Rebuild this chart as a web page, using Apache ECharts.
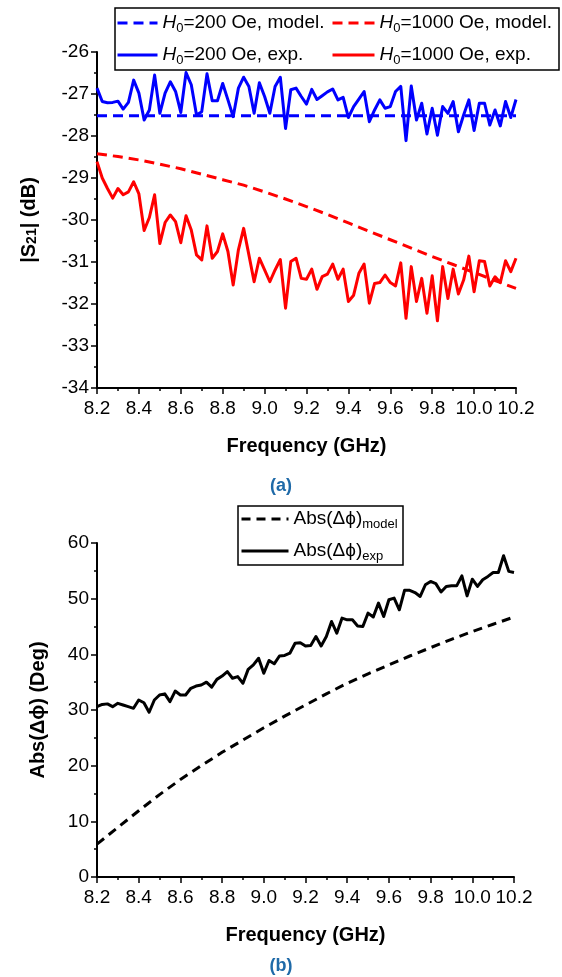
<!DOCTYPE html>
<html>
<head>
<meta charset="utf-8">
<script src="https://cdn.jsdelivr.net/npm/echarts@6/dist/echarts.min.js"></script>
<style>
  html, body { margin: 0; padding: 0; background: #fff; }
  #chart { width: 562px; height: 977px; }
</style>
</head>
<body>
<div id="chart"></div>
<script>
// Measured frequency grid (GHz)
const freq = [8.2,8.225,8.25,8.275,8.3,8.325,8.35,8.375,8.4,8.425,8.45,8.475,8.5,8.525,8.55,8.575,8.6,8.625,8.65,8.675,
  8.7,8.725,8.75,8.775,8.8,8.825,8.85,8.875,8.9,8.925,8.95,8.975,9.0,9.025,9.05,9.075,9.1,9.125,9.15,9.175,
  9.2,9.225,9.25,9.275,9.3,9.325,9.35,9.375,9.4,9.425,9.45,9.475,9.5,9.525,9.55,9.575,9.6,9.625,9.65,9.675,
  9.7,9.725,9.75,9.775,9.8,9.825,9.85,9.875,9.9,9.925,9.95,9.975,10.0,10.025,10.05,10.075,10.1,10.125,10.15,10.175,10.2];

// Model frequency grid (GHz)
const modelFreq = [8.2,8.3,8.4,8.5,8.6,8.7,8.8,8.9,9.0,9.1,9.2,9.3,9.4,9.5,9.6,9.7,9.8,9.9,10.0,10.1,10.2];

// |S21| (dB), model
const s21Model200 = [-27.52,-27.52,-27.52,-27.52,-27.52,-27.52,-27.52,-27.52,-27.52,-27.52,-27.52,
  -27.52,-27.52,-27.52,-27.52,-27.52,-27.52,-27.52,-27.52,-27.52,-27.52];
const s21Model1000 = [-28.42,-28.49,-28.57,-28.67,-28.78,-28.91,-29.04,-29.17,-29.33,-29.50,-29.68,
  -29.87,-30.07,-30.27,-30.47,-30.67,-30.87,-31.06,-31.25,-31.44,-31.63];

// |S21| (dB), measured
const s21Exp200 = [-26.86,-27.18,-27.21,-27.20,-27.17,-27.36,-27.20,-26.67,-26.98,-27.62,
  -27.38,-26.55,-27.46,-26.98,-26.71,-26.94,-27.44,-26.49,-26.78,-27.50,
  -27.42,-26.52,-27.16,-27.16,-26.75,-27.14,-27.54,-26.86,-26.60,-26.82,
  -27.46,-26.73,-27.06,-27.46,-26.82,-26.60,-27.82,-26.90,-26.86,-27.06,
  -27.24,-26.89,-27.13,-27.04,-26.95,-26.88,-27.14,-27.08,-27.56,-27.30,
  -27.12,-26.94,-27.66,-27.38,-27.14,-27.34,-27.30,-26.94,-26.82,-28.11,
  -26.81,-27.62,-27.22,-27.95,-27.34,-27.98,-27.30,-27.46,-27.18,-27.90,
  -27.50,-27.14,-27.87,-27.22,-27.22,-27.74,-27.38,-27.76,-27.18,-27.56,-27.13];
const s21Exp1000 = [-28.61,-29.00,-29.25,-29.48,-29.25,-29.40,-29.33,-29.09,-29.38,-30.25,
  -29.94,-29.40,-30.56,-30.06,-29.88,-30.04,-30.54,-29.90,-30.24,-30.83,
  -30.95,-30.14,-30.91,-30.75,-30.33,-30.75,-31.55,-30.71,-30.20,-30.83,
  -31.47,-30.91,-31.19,-31.47,-31.19,-30.94,-32.10,-30.99,-30.91,-31.39,
  -31.41,-31.17,-31.65,-31.35,-31.29,-31.05,-31.41,-31.17,-31.94,-31.79,
  -31.27,-31.05,-31.98,-31.51,-31.49,-31.31,-31.49,-31.57,-31.02,-32.34,
  -31.11,-31.94,-31.39,-32.22,-31.33,-32.40,-31.11,-31.87,-31.17,-31.76,
  -31.43,-30.86,-31.71,-30.97,-30.99,-31.57,-31.35,-31.49,-30.97,-31.23,-30.91];

// Abs(delta phi) (deg)
const phaseModel = [5.9,8.9,11.9,14.8,17.5,20.0,22.4,24.6,26.8,28.9,30.9,
  32.9,34.8,36.5,38.1,39.7,41.2,42.7,44.1,45.4,46.7];
const phaseExp = [30.6,31.0,31.1,30.6,31.2,30.9,30.6,30.3,31.8,31.3,
  29.6,31.8,32.7,32.9,31.5,33.4,32.7,32.7,33.9,34.3,
  34.5,35.0,34.1,35.5,36.1,36.9,35.7,36.0,34.8,37.3,
  38.1,39.3,36.6,38.9,38.3,39.7,39.8,40.2,42.0,42.1,
  41.5,41.6,43.2,41.5,43.2,45.9,43.8,46.5,46.2,46.2,
  45.1,45.0,47.4,46.7,49.2,46.8,49.8,50.1,48.0,51.5,
  51.5,51.1,50.4,52.5,53.1,52.7,51.2,52.2,52.3,52.3,
  54.1,50.5,53.5,52.2,53.4,54.0,54.7,54.7,57.7,54.9,54.7];

// Tick settings
const freqMin = 8.2, freqMax = 10.2, freqStep = 0.2;
const s21Min = -34, s21Max = -26, s21Step = 1;
const phaseMin = 0, phaseMax = 60, phaseStep = 10;

const pairs = (xs, ys) => xs.map((x, i) => [x, ys[i]]);

const FONT = '"Liberation Sans", Arial, sans-serif';

const legendLabels = {
  'H0=200 Oe, model.': '{i|H}{s|0}=200 Oe, model.',
  'H0=1000 Oe, model.': '{i|H}{s|0}=1000 Oe, model.',
  'H0=200 Oe, exp.': '{i|H}{s|0}=200 Oe, exp.',
  'H0=1000 Oe, exp.': '{i|H}{s|0}=1000 Oe, exp.',
  'Abs(dphi) model': 'Abs(\u0394\u03D5){s|model}',
  'Abs(dphi) exp': 'Abs(\u0394\u03D5){s|exp}'
};

const legendText = {
  fontFamily: FONT, fontSize: 19, color: '#000', lineHeight: 24,
  rich: {
    i: { fontFamily: FONT, fontSize: 19, fontStyle: 'italic', color: '#000', lineHeight: 24 },
    s: { fontFamily: FONT, fontSize: 13, color: '#000', lineHeight: 12, verticalAlign: 'bottom' }
  }
};

function legend(names, left, top, width) {
  return {
    data: names, orient: 'vertical', left: left, top: top,
    itemWidth: width, itemHeight: 12, itemGap: 8, padding: 0,
    selectedMode: false,
    itemStyle: { opacity: 0 },
    lineStyle: { width: 3 },
    formatter: n => legendLabels[n],
    textStyle: legendText
  };
}

function xAxis(gridIndex) {
  return {
    type: 'value', gridIndex: gridIndex, min: freqMin, max: freqMax, interval: freqStep,
    name: 'Frequency (GHz)', nameLocation: 'middle', nameGap: 48,
    nameTextStyle: { fontFamily: FONT, fontSize: 20, fontWeight: 'bold', color: '#000' },
    axisLine: { onZero: false, lineStyle: { color: '#000', width: 2 } },
    axisTick: { length: 6, lineStyle: { color: '#000', width: 1.5 } },
    minorTick: { show: true, splitNumber: 2, length: 3, lineStyle: { color: '#000', width: 1.5 } },
    axisLabel: { fontFamily: FONT, fontSize: 19, color: '#000', margin: 11,
      formatter: v => v.toFixed(1) },
    splitLine: { show: false }
  };
}

function yAxis(gridIndex, min, max, step, name, gap, rich) {
  return {
    type: 'value', gridIndex: gridIndex, min: min, max: max, interval: step,
    name: name, nameLocation: 'middle', nameGap: gap, nameRotate: 90,
    nameTextStyle: { fontFamily: FONT, fontSize: 20, fontWeight: 'bold', color: '#000', rich: rich },
    axisLine: { onZero: false, lineStyle: { color: '#000', width: 2 } },
    axisTick: { length: 6, lineStyle: { color: '#000', width: 1.5 } },
    minorTick: { show: true, splitNumber: 2, length: 3, lineStyle: { color: '#000', width: 1.5 } },
    axisLabel: { fontFamily: FONT, fontSize: 19, color: '#000', margin: 8 },
    splitLine: { show: false }
  };
}

function line(name, xi, data, color, dash) {
  return {
    name: name, type: 'line', xAxisIndex: xi, yAxisIndex: xi,
    data: data, symbol: 'none', smooth: false, silent: true,
    lineStyle: { color: color, width: 3, type: dash || 'solid', join: 'round' },
    itemStyle: { color: color }
  };
}

const chart = echarts.init(document.getElementById('chart'), null, { renderer: 'canvas' });

chart.setOption({
  animation: false,
  backgroundColor: '#fff',
  grid: [
    { left: 97, right: 46, top: 52, height: 336 },
    { left: 97, right: 48, top: 543, height: 334 }
  ],
  xAxis: [xAxis(0), xAxis(1)],
  yAxis: [
    yAxis(0, s21Min, s21Max, s21Step, '|S{s|21}| (dB)', 58,
      { s: { fontFamily: FONT, fontSize: 14, fontWeight: 'bold', color: '#000', verticalAlign: 'bottom', lineHeight: 12 } }),
    yAxis(1, phaseMin, phaseMax, phaseStep, 'Abs(\u0394\u03D5) (Deg)', 49, {})
  ],
  legend: [
    legend(['H0=200 Oe, model.', 'H0=200 Oe, exp.'], 116, 11, 40),
    legend(['H0=1000 Oe, model.', 'H0=1000 Oe, exp.'], 331, 11, 42),
    legend(['Abs(dphi) model', 'Abs(dphi) exp'], 240, 507, 47)
  ],
  graphic: [
    { type: 'rect', shape: { x: 115, y: 8, width: 444, height: 62 },
      style: { fill: '#fff', stroke: '#000', lineWidth: 1.5 }, z: 1 },
    { type: 'rect', shape: { x: 238, y: 506, width: 165, height: 59 },
      style: { fill: '#fff', stroke: '#000', lineWidth: 1.5 }, z: 1 },
    { type: 'text', left: 'center', top: 477,
      style: { text: '(a)', fontFamily: FONT, fontSize: 18, fontWeight: 'bold', fill: '#1f6aa8' } },
    { type: 'text', left: 'center', top: 957,
      style: { text: '(b)', fontFamily: FONT, fontSize: 18, fontWeight: 'bold', fill: '#1f6aa8' } }
  ],
  series: [
    line('H0=200 Oe, model.', 0, pairs(modelFreq, s21Model200), '#0000ff', [10, 6]),
    line('H0=1000 Oe, model.', 0, pairs(modelFreq, s21Model1000), '#ff0000', [10, 6]),
    line('H0=200 Oe, exp.', 0, pairs(freq, s21Exp200), '#0000ff'),
    line('H0=1000 Oe, exp.', 0, pairs(freq, s21Exp1000), '#ff0000'),
    line('Abs(dphi) model', 1, pairs(modelFreq, phaseModel), '#000000', [9, 6]),
    line('Abs(dphi) exp', 1, pairs(freq, phaseExp), '#000000')
  ]
});
</script>
</body>
</html>
